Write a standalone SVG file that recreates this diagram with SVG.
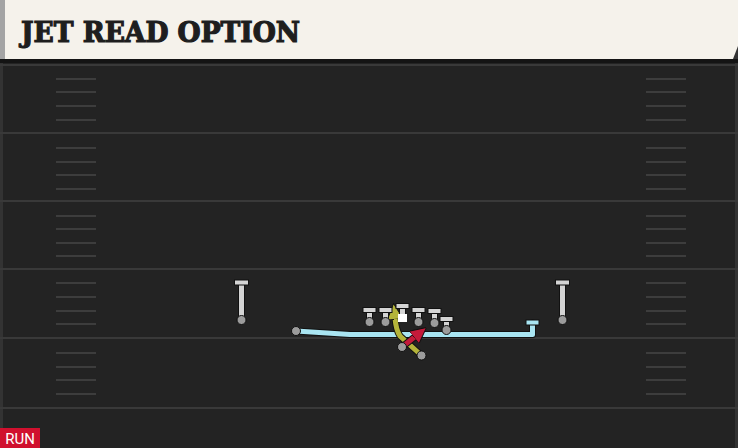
<svg xmlns="http://www.w3.org/2000/svg" width="738" height="448" viewBox="0 0 738 448">
<defs>
<style>
.line{stroke:#393939;stroke-width:2}
.hash{stroke:#3d3d3d;stroke-width:2}
.out{fill:none;stroke:#111;stroke-linecap:round;stroke-linejoin:round}
.pl rect{fill:#d4d4d4;stroke:#111;stroke-width:1}
.pl circle{fill:#9c9c9c;stroke:#111;stroke-width:1}
</style>
<marker id="ar" viewBox="0 0 10 10" refX="4" refY="5" markerWidth="3.2" markerHeight="3.2" orient="auto" markerUnits="strokeWidth"><path d="M0,0 L10,5 L0,10 z" fill="#c41a3a" stroke="#111" stroke-width="0.6"/></marker>
<marker id="ay" viewBox="0 0 10 10" refX="4" refY="5" markerWidth="3.2" markerHeight="3.2" orient="auto" markerUnits="strokeWidth"><path d="M0,0 L10,5 L0,10 z" fill="#b4b43a" stroke="#111" stroke-width="0.6"/></marker>
</defs>
<rect width="738" height="448" fill="#232323"/>
<rect x="0" y="59" width="738" height="4" fill="#141414"/>
<rect x="0" y="63" width="3" height="385" fill="#333"/>
<rect x="735" y="63" width="3" height="385" fill="#333"/>
<g id="field">
<line class="line" x1="0" y1="65" x2="738" y2="65"/>
<line class="line" x1="0" y1="133" x2="738" y2="133"/>
<line class="line" x1="0" y1="201" x2="738" y2="201"/>
<line class="line" x1="0" y1="269" x2="738" y2="269"/>
<line class="line" x1="0" y1="338" x2="738" y2="338"/>
<line class="line" x1="0" y1="408" x2="738" y2="408"/>
<g id="hashes">
<path class="hash" d="M56,79H96M56,92H96M56,106H96M56,120H96M56,148H96M56,162H96M56,175H96M56,189H96M56,216H96M56,229H96M56,243H96M56,256H96M56,283H96M56,297H96M56,311H96M56,324H96M56,353H96M56,367H96M56,380H96M56,394H96"/>
<path class="hash" d="M646,79H686M646,92H686M646,106H686M646,120H686M646,148H686M646,162H686M646,175H686M646,189H686M646,216H686M646,229H686M646,243H686M646,256H686M646,283H686M646,297H686M646,311H686M646,324H686M646,353H686M646,367H686M646,380H686M646,394H686"/>
</g>
</g>
<g id="header">
<rect x="0" y="0" width="738" height="59" fill="#f5f2eb"/>
<rect x="0" y="0" width="5" height="59" fill="#a4a4a4"/>
<path d="M738,46 L733,59 L738,59 z" fill="#333"/>
<text x="21" y="42" font-family="DejaVu Serif, serif" font-weight="bold" font-size="27" fill="#1e1e1e" stroke="#1e1e1e" stroke-width="1.2" textLength="279" lengthAdjust="spacingAndGlyphs">JET READ OPTION</text>
</g>
<g id="connectors">
<path class="out" stroke-width="7" d="M296,331 L350,334.5 L532.5,334.5 L532.5,323"/>
<path d="M296,331 L350,334.5 L532.5,334.5 L532.5,323" fill="none" stroke="#a9e5f2" stroke-width="5" stroke-linejoin="round"/>
<rect x="526" y="320" width="13" height="5" fill="#a9e5f2" stroke="#111" stroke-width="1"/>
<path class="out" stroke-width="7" d="M421,355 L400,336 Q396,330 395,318 L394.5,313"/>
<path d="M421,355 L400,336 Q396,330 395,318 L394.5,313" fill="none" stroke="#b4b43a" stroke-width="5" marker-end="url(#ay)"/>
<path class="out" stroke-width="7" d="M402,347 L419,333.5"/>
<path d="M402,347 L419,333.5" fill="none" stroke="#c41a3a" stroke-width="5" marker-end="url(#ar)"/>
</g>
<g id="jet" class="pl"><circle cx="296" cy="331" r="4.5"/></g>
<g id="wr-left" class="pl"><rect x="238.5" y="283" width="6" height="36"/><rect x="234.5" y="280" width="14" height="5"/><circle cx="241.5" cy="320" r="4.5"/></g>
<g id="wr-right" class="pl"><rect x="559.5" y="283" width="6" height="36"/><rect x="555.5" y="280" width="14" height="5"/><circle cx="562.5" cy="320" r="4.5"/></g>
<g id="lt" class="pl"><rect x="366.5" y="310" width="6" height="11"/><rect x="363" y="307.5" width="13" height="5"/><circle cx="369.5" cy="322" r="4.5"/></g>
<g id="lg" class="pl"><rect x="382.5" y="310" width="6" height="11"/><rect x="379" y="307.5" width="13" height="5"/><circle cx="385.5" cy="322" r="4.5"/></g>
<g id="c" class="pl"><rect x="399.5" y="306" width="6" height="10"/><rect x="396" y="303.5" width="13" height="5"/><rect x="398" y="314" width="9" height="8" style="fill:#fff;stroke:none"/></g>
<g id="rg" class="pl"><rect x="415.5" y="310" width="6" height="11"/><rect x="412" y="307.5" width="13" height="5"/><circle cx="418.5" cy="322" r="4.5"/></g>
<g id="rt" class="pl"><rect x="431.5" y="311" width="6" height="11"/><rect x="428" y="308.5" width="13" height="5"/><circle cx="434.5" cy="323" r="4.5"/></g>
<g id="te" class="pl"><rect x="443.5" y="319" width="6" height="10"/><rect x="440" y="316.5" width="13" height="5"/><circle cx="446.5" cy="330" r="4.5"/></g>
<g id="qb" class="pl"><circle cx="402" cy="347" r="4.5"/></g>
<g id="rb" class="pl"><circle cx="421.5" cy="355.5" r="4.5"/></g>
<g id="tag">
<rect x="0" y="428" width="40" height="20" fill="#d0102e"/>
<text x="20" y="444" font-family="Roboto, 'Liberation Sans', sans-serif" font-size="15" fill="#fff" text-anchor="middle">RUN</text>
</g>
</svg>
